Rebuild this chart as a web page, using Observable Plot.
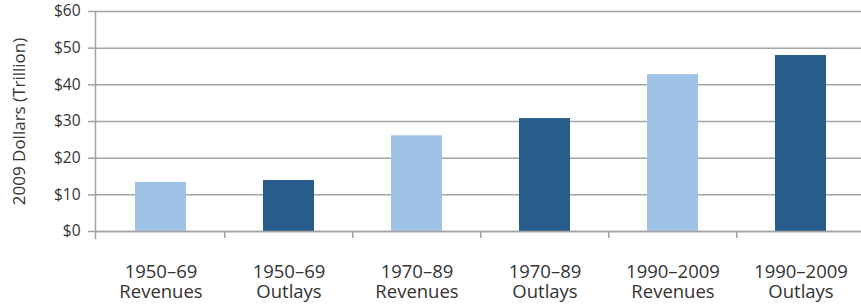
<!DOCTYPE html>
<html>
<head>
<meta charset="utf-8">
<script src="https://cdn.jsdelivr.net/npm/d3@7"></script>
<script src="https://cdn.jsdelivr.net/npm/@observablehq/plot@0.6"></script>
<style>
  html, body { margin: 0; padding: 0; background: #fff; }
  svg { display: block; }
</style>
</head>
<body>
<div id="chart"></div>
<script>
const categories = ["1950–69\nRevenues", "1950–69\nOutlays", "1970–89\nRevenues", "1970–89\nOutlays", "1990–2009\nRevenues", "1990–2009\nOutlays"];
const kinds = ["Revenues", "Outlays", "Revenues", "Outlays", "Revenues", "Outlays"];
const values = [13.4, 13.9, 26.1, 30.8, 42.8, 48.0];
const yTicks = [0, 10, 20, 30, 40, 50, 60];
const yLabel = "2009 Dollars (Trillion)";

const data = categories.map((c, i) => ({category: c, kind: kinds[i], value: values[i]}));

const W = 861, H = 305;
const left = 95, right = 866;
const step = (right - left) / categories.length;
const font = "'Open Sans', sans-serif";

const chart = Plot.plot({
  width: W,
  height: H,
  marginLeft: left,
  marginRight: 0,
  marginTop: 11,
  marginBottom: 74,
  style: {fontFamily: font, color: "#333", background: "#fff"},
  x: {domain: categories, range: [left, right], paddingInner: 0.6, paddingOuter: 0.3},
  y: {domain: [0, 60]},
  color: {domain: ["Revenues", "Outlays"], range: ["#9fc3e7", "#285c8d"]},
  marks: [
    Plot.gridY(yTicks, {stroke: "#a3a3a3", strokeOpacity: 1, strokeWidth: 1.5}),
    Plot.barY(data, {x: "category", y: "value", fill: "kind"}),
    Plot.axisY(yTicks, {tickSize: 7, tickPadding: 8, tickFormat: d => "$" + d, fontSize: 15.5, stroke: "#a3a3a3", strokeWidth: 1.5, label: null, fill: "#333"}),
    Plot.axisX({tickSize: 0, tickPadding: 32, fontSize: 18.5, lineHeight: 1.08, label: null, fill: "#333"}),
    Plot.frame({anchor: "left", stroke: "#a3a3a3", strokeWidth: 1.5, insetBottom: -7}),
    Plot.ruleY([0], {stroke: "#a3a3a3", strokeWidth: 1.5}),
    Plot.ruleX(categories.slice(1), {x: d => d, dx: -step / 2, y1: 0, y2: 0, insetBottom: -7, stroke: "#a3a3a3", strokeWidth: 1.5}),
    Plot.text([yLabel], {text: d => d, frameAnchor: "left", textAnchor: "middle", rotate: -90, dx: -76, fontSize: 17, fill: "#333"})
  ]
});
document.getElementById("chart").appendChild(chart);
</script>
</body>
</html>
